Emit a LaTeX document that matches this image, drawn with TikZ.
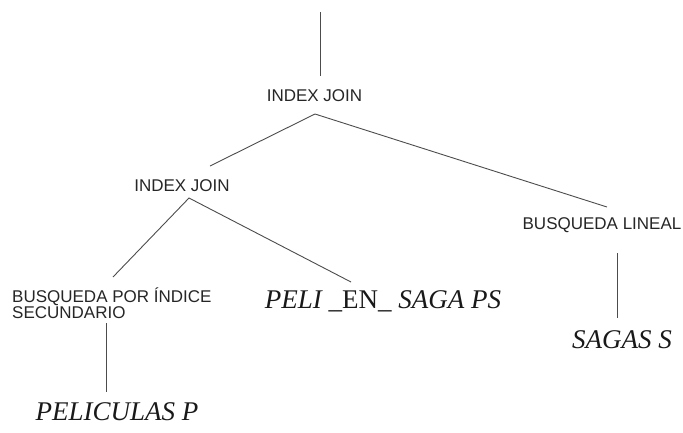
\documentclass[tikz,border=0pt]{standalone}
\usepackage{fontspec}
\setmainfont{Liberation Serif}
\setsansfont{Liberation Sans}
\begin{document}
\begin{tikzpicture}[x=1pt,y=-1pt,
  op/.style={font=\sffamily\fontsize{17}{16}\selectfont, inner sep=0pt, text=black!85},
  rel/.style={font=\fontsize{27}{30}\selectfont\itshape, inner sep=0pt, text=black!90},
  edge/.style={draw=black!70, line width=0.9pt}]
  \useasboundingbox (0,0) rectangle (683,432);

  % operators
  \node[op, anchor=base] (j1) at (314.5,101) {INDEX JOIN};
  \node[op, anchor=base] (j2) at (182,191) {INDEX JOIN};
  \node[op, anchor=base] (lin) at (602,229) {BUSQUEDA LINEAL};
  \node[op, anchor=base west, align=left] (idx) at (12,318) {BUSQUEDA POR ÍNDICE\\SECUNDARIO};

  % relations
  \node[rel, anchor=base] (ps) at (383,308) {PELI \upshape\_EN\_ \itshape SAGA PS};
  \node[rel, anchor=base] (s) at (622,348) {SAGAS S};
  \node[rel, anchor=base] (p) at (117,420) {PELICULAS P};

  % connector end points
  \coordinate (root) at (320,12);
  \coordinate (j1top) at (320,76);
  \coordinate (j1apex) at (315,114);
  \coordinate (j2end) at (210,166);
  \coordinate (linend) at (607,207);
  \coordinate (j2apex) at (189,198);
  \coordinate (idxend) at (113,277);
  \coordinate (psend) at (351,282);
  \coordinate (lintop) at (617,253);
  \coordinate (stop) at (617,318);
  \coordinate (idxtop) at (106,323);
  \coordinate (ptop) at (106,392);

  % tree edges
  \draw[edge] (root) -- (j1top);
  \draw[edge] (j2end) -- (j1apex) -- (linend);
  \draw[edge] (idxend) -- (j2apex) -- (psend);
  \draw[edge] (lintop) -- (stop);
  \draw[edge] (idxtop) -- (ptop);
\end{tikzpicture}
\end{document}
